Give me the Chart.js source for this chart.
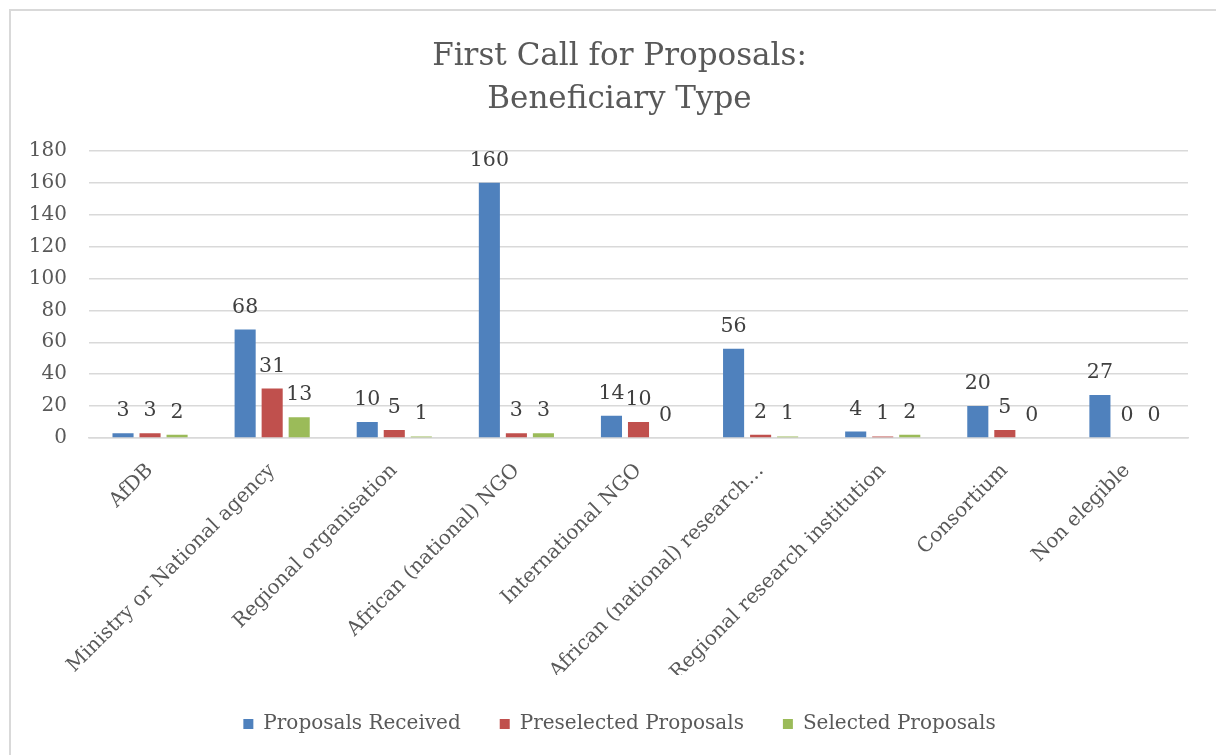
<!DOCTYPE html>
<html>
<head>
<meta charset="utf-8">
<script src="https://cdn.jsdelivr.net/npm/chart.js@4/dist/chart.umd.min.js"></script>
<style>
  html, body { margin: 0; padding: 0; background: #fff; }
  #wrap { position: relative; width: 1216px; height: 755px; }
  #frame { position: absolute; left: 9px; top: 9px; right: 0; bottom: 0; border-left: 2px solid #d9d9d9; border-top: 2px solid #d9d9d9; pointer-events: none; }
  canvas { position: absolute; left: 0; top: 0; }
</style>
</head>
<body>
<div id="wrap">
  <canvas id="c" width="1216" height="755"></canvas>
  <div id="frame"></div>
</div>
<script>
const categories = [
  "AfDB",
  "Ministry or National agency",
  "Regional organisation",
  "African (national) NGO",
  "International NGO",
  "African (national) research\u2026",
  "Regional research institution",
  "Consortium",
  "Non elegible"
];
const proposalsReceived    = [3, 68, 10, 160, 14, 56, 4, 20, 27];
const preselectedProposals = [3, 31, 5, 3, 10, 2, 1, 5, 0];
const selectedProposals    = [2, 13, 1, 3, 0, 1, 2, 0, 0];
const seriesNames = ["Proposals Received", "Preselected Proposals", "Selected Proposals"];
const titleLines = ["First Call for Proposals:", "Beneficiary Type"];
const yTicks = [0, 20, 40, 60, 80, 100, 120, 140, 160, 180];

const FONT = "'DejaVu Serif', serif";
const TEXT = "#595959";

const dataLabels = {
  id: 'dataLabels',
  afterDatasetsDraw(chart) {
    const ctx = chart.ctx;
    ctx.save();
    ctx.font = "20.5px " + FONT;
    ctx.fillStyle = "#404040";
    ctx.textAlign = "center";
    ctx.textBaseline = "bottom";
    chart.data.datasets.forEach((ds, di) => {
      const meta = chart.getDatasetMeta(di);
      meta.data.forEach((bar, i) => {
        ctx.fillText(String(ds.data[i]), bar.x, bar.y - 12);
      });
    });
    ctx.restore();
  }
};

new Chart(document.getElementById('c'), {
  type: 'bar',
  data: {
    labels: categories,
    datasets: [
      { label: seriesNames[0], data: proposalsReceived, backgroundColor: "#4F81BD" },
      { label: seriesNames[1], data: preselectedProposals, backgroundColor: "#C0504D" },
      { label: seriesNames[2], data: selectedProposals, backgroundColor: "#9BBB59" }
    ]
  },
  options: {
    responsive: false,
    animation: false,
    devicePixelRatio: 1,
    categoryPercentage: 0.664,
    barPercentage: 0.78,
    layout: { padding: { left: 30, right: 7, top: 0, bottom: 11 } },
    plugins: {
      tooltip: { enabled: false },
      title: {
        display: true,
        text: titleLines,
        color: TEXT,
        font: { family: FONT, size: 31, weight: 'normal', lineHeight: 1.4 },
        padding: { top: 35, bottom: 29 }
      },
      legend: {
        position: 'bottom',
        labels: {
          color: TEXT,
          font: { family: FONT, size: 20 },
          boxWidth: 10,
          boxHeight: 10,
          padding: 39
        }
      }
    },
    scales: {
      x: {
        grid: { display: false, drawTicks: false },
        border: { display: true, color: "#d9d9d9", width: 1.5 },
        ticks: {
          color: TEXT,
          font: { family: FONT, size: 20 },
          minRotation: 45,
          maxRotation: 45,
          autoSkip: false,
          padding: 21
        },
        afterFit(scale) { scale.height = 237; }
      },
      y: {
        min: 0,
        max: 180,
        afterBuildTicks(scale) { scale.ticks = yTicks.map(v => ({ value: v })); },
        grid: { color: "#d9d9d9", lineWidth: 1.5, drawTicks: false },
        border: { display: false },
        ticks: {
          color: TEXT,
          font: { family: FONT, size: 20 },
          padding: 22
        },
        afterFit(scale) { scale.width = 59; }
      },
      yRightSpace: {
        position: 'right',
        display: true,
        min: 0,
        max: 180,
        grid: { display: false, drawTicks: false },
        border: { display: false },
        ticks: { display: false },
        afterFit(scale) { scale.width = 21; }
      }
    }
  },
  plugins: [dataLabels]
});
</script>
</body>
</html>
